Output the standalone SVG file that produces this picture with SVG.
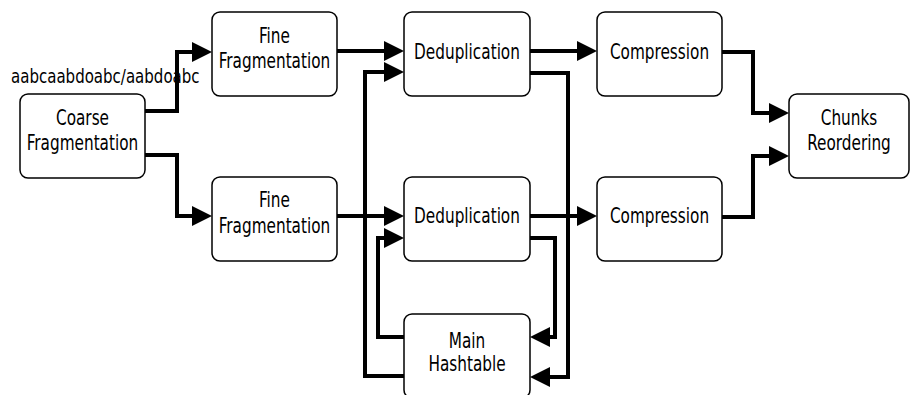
<svg xmlns="http://www.w3.org/2000/svg" width="910" height="395" viewBox="0 0 910 395">
<style>
.box{fill:#fff;stroke:#000;stroke-width:1.5}
.t{font-family:"DejaVu Sans Condensed","DejaVu Sans",sans-serif;font-stretch:condensed;font-size:17px;fill:#000;text-anchor:middle}
.lbl{font-family:"DejaVu Sans Condensed","DejaVu Sans",sans-serif;font-stretch:condensed;font-size:16.7px;fill:#000}
.c{fill:none;stroke:#000;stroke-width:4;stroke-linejoin:miter;marker-end:url(#ah)}
</style>
<defs>
<marker id="ah" viewBox="0 0 20 20" refX="10" refY="10" markerWidth="20" markerHeight="20" markerUnits="userSpaceOnUse" orient="auto">
<path d="M0,0 L20,10 L0,20 z" fill="#000"/>
</marker>
</defs>
<rect width="910" height="395" fill="#fff"/>
<text class="lbl" transform="matrix(1,0,0,1.2,11,83)">aabcaabdoabc/aabdoabc</text>
<g id="coarse"><rect class="box" x="20" y="94" width="125" height="84" rx="8"/><text class="t" transform="matrix(1,0,0,1.2,82.5,125)">Coarse</text><text class="t" transform="matrix(1,0,0,1.2,82.5,150)">Fragmentation</text></g>
<g id="fine1"><rect class="box" x="212" y="12" width="125" height="84" rx="8"/><text class="t" transform="matrix(1,0,0,1.2,274.5,43)">Fine</text><text class="t" transform="matrix(1,0,0,1.2,274.5,68)">Fragmentation</text></g>
<g id="fine2"><rect class="box" x="212" y="177" width="125" height="84" rx="8"/><text class="t" transform="matrix(1,0,0,1.2,274.5,207)">Fine</text><text class="t" transform="matrix(1,0,0,1.2,274.5,233)">Fragmentation</text></g>
<g id="dedup1"><rect class="box" x="404" y="12" width="126" height="84" rx="8"/><text class="t" transform="matrix(1,0,0,1.2,467,59)">Deduplication</text></g>
<g id="dedup2"><rect class="box" x="404" y="177" width="126" height="84" rx="8"/><text class="t" transform="matrix(1,0,0,1.2,467,223)">Deduplication</text></g>
<g id="hash"><rect class="box" x="404" y="314" width="126" height="84" rx="8"/><text class="t" transform="matrix(1,0,0,1.2,467,348)">Main</text><text class="t" transform="matrix(1,0,0,1.2,467,371)">Hashtable</text></g>
<g id="comp1"><rect class="box" x="597" y="12" width="125" height="84" rx="8"/><text class="t" transform="matrix(1,0,0,1.2,659.5,59)">Compression</text></g>
<g id="comp2"><rect class="box" x="597" y="177" width="125" height="84" rx="8"/><text class="t" transform="matrix(1,0,0,1.2,659.5,223)">Compression</text></g>
<g id="reorder"><rect class="box" x="789" y="94" width="120" height="84" rx="8"/><text class="t" transform="matrix(1,0,0,1.2,849,125)">Chunks</text><text class="t" transform="matrix(1,0,0,1.2,849,150)">Reordering</text></g>
<g id="connectors">
<path class="c" d="M145,111 H177 V52 H202"/>
<path class="c" d="M145,155 H177 V216 H202"/>
<path class="c" d="M337,51 H394"/>
<path class="c" d="M337,216 H394"/>
<path class="c" d="M530,51 H587"/>
<path class="c" d="M530,216 H587"/>
<path class="c" d="M530,73 H568 V377 H540"/>
<path class="c" d="M404,376 H365 V72 H394"/>
<path class="c" d="M530,238 H555 V337 H540"/>
<path class="c" d="M404,337 H378 V238 H394"/>
<path class="c" d="M722,52 H753 V113 H779"/>
<path class="c" d="M722,217 H753 V156 H779"/>
</g>
</svg>
